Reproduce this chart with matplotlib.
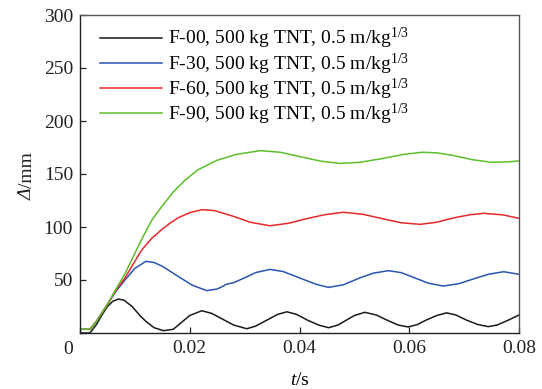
import matplotlib
matplotlib.use("Agg")
import matplotlib.pyplot as plt

# data (t in s, deflection in mm)
t_f00 = [0.0, 0.0018, 0.003, 0.004, 0.005, 0.006, 0.007, 0.008, 0.0095, 0.011, 0.012, 0.0135,
         0.0152, 0.017, 0.0185, 0.020, 0.0222, 0.024, 0.026, 0.028, 0.0304, 0.032, 0.034, 0.036,
         0.0377, 0.0395, 0.0415, 0.0435, 0.0453, 0.047, 0.0485, 0.050, 0.0519, 0.054, 0.056,
         0.058, 0.0598, 0.0615, 0.063, 0.065, 0.0668, 0.0685, 0.0705, 0.0725, 0.0744, 0.076,
         0.078, 0.080]
v_f00 = [0.0, 0.0, 8.0, 17.0, 25.0, 30.0, 32.0, 31.0, 25.0, 16.0, 11.0, 5.0,
         2.2, 3.5, 10.0, 16.5, 21.0, 18.5, 13.0, 7.5, 4.0, 6.5, 12.0, 17.5,
         20.0, 17.5, 12.0, 7.5, 5.0, 7.5, 12.0, 16.5, 19.5, 17.0, 12.0,
         7.5, 5.7, 8.0, 12.0, 16.5, 19.0, 17.0, 12.0, 8.0, 6.0, 7.5,
         12.0, 17.0]

t_f30 = [0.0, 0.0018, 0.003, 0.004, 0.005, 0.0065, 0.0082, 0.010, 0.012, 0.0135, 0.015, 0.018,
         0.0205, 0.0231, 0.025, 0.026, 0.0267, 0.028, 0.030, 0.032, 0.0346, 0.037, 0.040, 0.043,
         0.0453, 0.048, 0.051, 0.0535, 0.0562, 0.0585, 0.061, 0.0635, 0.0662, 0.069, 0.072,
         0.0745, 0.0772, 0.080]
v_f30 = [3.5, 3.5, 11.0, 19.0, 27.0, 39.0, 50.0, 61.0, 67.6, 66.5, 63.0, 53.0,
         45.0, 40.0, 41.5, 44.0, 46.0, 47.5, 52.0, 57.0, 60.0, 58.0, 52.0, 46.0,
         43.0, 45.5, 52.0, 56.5, 58.8, 57.0, 52.0, 47.0, 44.3, 46.5, 51.5,
         55.5, 57.8, 55.4]

t_f60 = [0.0, 0.0018, 0.003, 0.004, 0.005, 0.0065, 0.0082, 0.0097, 0.0112, 0.013, 0.015, 0.0165,
         0.018, 0.020, 0.0222, 0.0245, 0.028, 0.031, 0.0346, 0.038, 0.041, 0.0445, 0.048, 0.0515,
         0.055, 0.0585, 0.062, 0.065, 0.068, 0.071, 0.0735, 0.077, 0.080]
v_f60 = [3.5, 3.5, 11.0, 19.0, 27.0, 40.0, 52.0, 65.0, 78.0, 89.0, 98.0, 104.0,
         109.0, 113.5, 116.3, 115.5, 110.0, 104.5, 101.2, 103.5, 107.5, 111.5, 113.9, 112.0,
         108.0, 104.0, 102.5, 104.5, 108.5, 111.5, 112.9, 111.5, 108.2]

t_f90 = [0.0, 0.0018, 0.003, 0.004, 0.005, 0.0065, 0.0082, 0.0097, 0.0112, 0.0131, 0.015, 0.017,
         0.0191, 0.0215, 0.025, 0.0285, 0.0328, 0.0365, 0.040, 0.044, 0.0474, 0.051, 0.055, 0.059,
         0.0623, 0.065, 0.068, 0.0715, 0.075, 0.078, 0.080]
v_f90 = [3.5, 3.5, 11.0, 19.0, 27.0, 41.0, 56.0, 72.0, 88.0, 106.6, 120.0, 133.0,
         144.0, 154.0, 163.0, 168.5, 172.0, 170.5, 166.5, 162.0, 160.0, 161.0, 164.5, 168.5,
         170.5, 170.0, 167.5, 163.5, 161.0, 161.5, 162.3]

series = [
    (t_f00, v_f00, "F-00", "#1a1a1a"),
    (t_f30, v_f30, "F-30", "#2a55b0"),
    (t_f60, v_f60, "F-60", "#e8282a"),
    (t_f90, v_f90, "F-90", "#5cbf2a"),
]
label_suffix = r", 500 kg TNT, 0.5 m/kg$^{1/3}$"

x_ticks = [0, 0.02, 0.04, 0.06, 0.08]
x_ticklabels = ["", "0.02", "0.04", "0.06", "0.08"]
y_ticks = [0, 50, 100, 150, 200, 250, 300]
y_ticklabels = ["", "50", "100", "150", "200", "250", "300"]

plt.rcParams["font.family"] = ["Liberation Serif", "DejaVu Serif"]
plt.rcParams["mathtext.fontset"] = "custom"
plt.rcParams["mathtext.rm"] = "Liberation Serif"
plt.rcParams["mathtext.it"] = "Liberation Serif:italic"

fig = plt.figure(figsize=(5.42, 3.89), dpi=100)
ax = fig.add_axes([80 / 542, 1 - 333 / 389, (519 - 80) / 542, (333 - 15) / 389])

for t, v, name, color in series:
    ax.plot(t, v, color=color, lw=1.1, label=name + label_suffix)

ax.set_xlim(0, 0.08)
ax.set_ylim(0, 300)
ax.set_xticks(x_ticks)
ax.set_xticklabels(x_ticklabels)
ax.set_yticks(y_ticks)
ax.set_yticklabels(y_ticklabels)
ax.tick_params(direction="in", length=4, width=0.9, labelsize=14, pad=5, colors="#222222")
for s in ax.spines.values():
    s.set_linewidth(1.0)
    s.set_color("#555555")
ax.spines["left"].set_color("#222222")
ax.spines["bottom"].set_color("#222222")

fig.text(68 / 542, 1 - 350 / 389, "0", fontsize=14, ha="center", va="center", color="#222222")

ax.set_xlabel(r"$\mathit{t}$/s", fontsize=14, labelpad=11)
# y label: italic Delta + "/mm"
fig.text(27 / 542, 1 - 194 / 389, "Δ", fontsize=14, style="italic", rotation=90,
         ha="center", va="center", color="#222222")
fig.text(27 / 542, 1 - 170 / 389, "/mm", fontsize=14, rotation=90,
         ha="center", va="center", color="#222222")

leg = ax.legend(loc="upper left", frameon=False, fontsize=14, handlelength=3.2,
                handletextpad=0.3, labelspacing=0.0, borderaxespad=0.0,
                bbox_to_anchor=(0.027, 0.989))

fig.savefig("out.png", dpi=100)
